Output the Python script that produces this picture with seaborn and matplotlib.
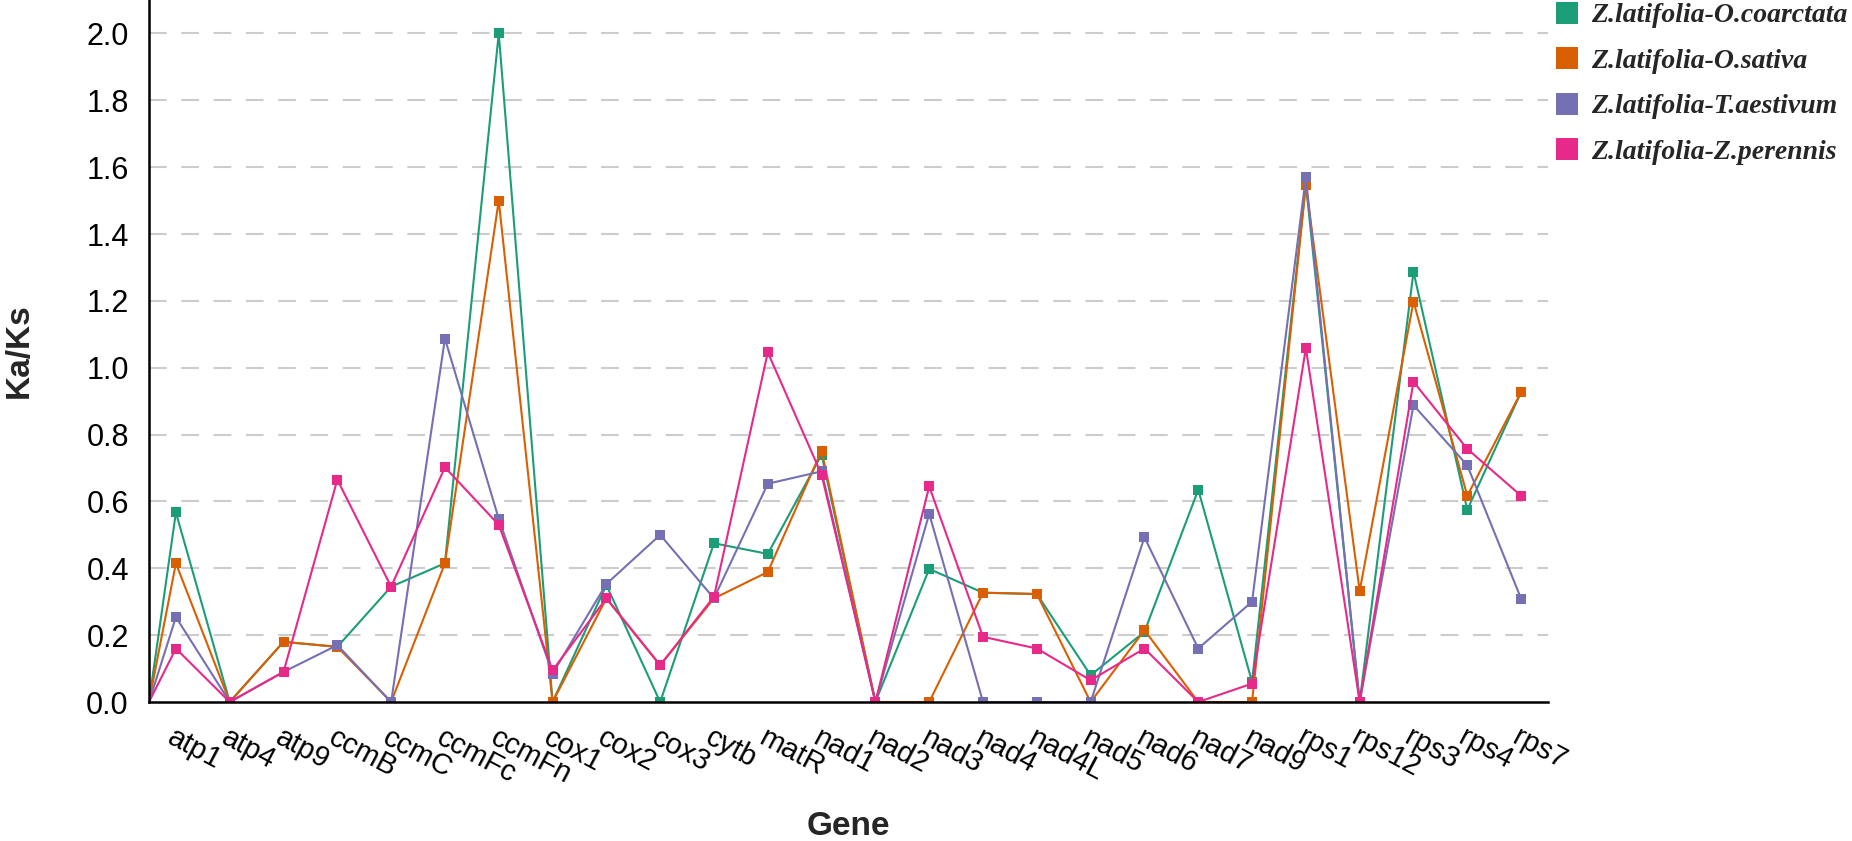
import numpy as np
import pandas as pd
import matplotlib
matplotlib.use("Agg")
import matplotlib.pyplot as plt
import matplotlib.transforms as mtransforms
from matplotlib.lines import Line2D
import seaborn as sns

genes = ["atp1", "atp4", "atp9", "ccmB", "ccmC", "ccmFc", "ccmFn", "cox1", "cox2", "cox3",
         "cytb", "matR", "nad1", "nad2", "nad3", "nad4", "nad4L", "nad5", "nad6", "nad7",
         "nad9", "rps1", "rps12", "rps3", "rps4", "rps7"]

o_coarctata = [0.567, 0.0, 0.18, 0.165, 0.345, 0.415, 2.0, 0.0, 0.35, 0.0,
               0.475, 0.443, 0.74, 0.0, 0.398, 0.327, 0.323, 0.08, 0.21, 0.635,
               0.06, 1.55, 0.0, 1.287, 0.575, 0.927]
o_sativa = [0.415, 0.0, 0.18, 0.165, 0.0, 0.415, 1.5, 0.0, 0.31, 0.11,
            0.31, 0.389, 0.752, 0.0, 0.0, 0.327, 0.323, 0.0, 0.215, 0.0,
            0.0, 1.547, 0.332, 1.198, 0.617, 0.927]
t_aestivum = [0.254, 0.0, 0.09, 0.17, 0.0, 1.087, 0.548, 0.085, 0.353, 0.50,
              0.31, 0.653, 0.69, 0.0, 0.563, 0.0, 0.0, 0.0, 0.493, 0.16,
              0.30, 1.571, 0.0, 0.888, 0.708, 0.309]
z_perennis = [0.16, 0.0, 0.09, 0.665, 0.345, 0.702, 0.53, 0.095, 0.31, 0.11,
              0.315, 1.046, 0.68, 0.0, 0.645, 0.195, 0.16, 0.065, 0.16, 0.0,
              0.055, 1.059, 0.0, 0.958, 0.757, 0.617]

pairs = ["Z.latifolia-O.coarctata", "Z.latifolia-O.sativa",
         "Z.latifolia-T.aestivum", "Z.latifolia-Z.perennis"]
colors = ["#1b9e77", "#d95f02", "#7570b3", "#e7298a"]

series = [o_coarctata, o_sativa, t_aestivum, z_perennis]
rows = []
for pair, vals in zip(pairs, series):
    for i, v in enumerate(vals):
        rows.append({"pos": i, "Gene": genes[i], "Ka/Ks": v, "Pair": pair})
df = pd.DataFrame(rows)

sns.set_style("white")
plt.rcParams["font.family"] = ["Liberation Sans", "DejaVu Sans"]

fig = plt.figure(figsize=(18.52, 8.41), dpi=100)
ax = fig.add_axes([149 / 1852, 139 / 841, 1399 / 1852, 702 / 841])

# grid first so it sits under the lines
for yv in np.arange(0.2, 2.01, 0.2):
    ax.axhline(yv, color="#cccccc", lw=1.5, ls=(0, (8.5, 7)), zorder=0)

# lines start from the origin of the axis in the original chart
for vals, c in zip(series, colors):
    ax.plot([-0.5, 0], [0, vals[0]], color=c, lw=1.5, zorder=1)

sns.lineplot(data=df, x="pos", y="Ka/Ks", hue="Pair", palette=colors,
             marker="s", markersize=7.5, markeredgewidth=0, lw=1.5,
             sort=False, legend=False, ax=ax, zorder=2)

ax.set_xlim(-0.5, len(genes) - 0.5)
ax.set_ylim(0, 2.1)
ax.set_yticks(np.arange(0, 2.01, 0.2))
ax.set_yticklabels([f"{v:.1f}" for v in np.arange(0, 2.01, 0.2)])
ax.set_xticks(range(len(genes)))
ax.set_xticklabels(genes, rotation=-28, ha="left", va="top", rotation_mode="anchor")

shift = mtransforms.ScaledTranslation(-0.27, 0, fig.dpi_scale_trans)
for lab in ax.get_xticklabels():
    lab.set_transform(lab.get_transform() + shift)

ax.tick_params(axis="both", which="major", length=9.5, width=1.5,
               color="black", labelcolor="black", direction="out")
ax.tick_params(axis="x", pad=6, labelsize=21)
ax.tick_params(axis="y", pad=5, labelsize=22)

sns.despine(ax=ax)
for side in ["left", "bottom"]:
    ax.spines[side].set_color("black")
    ax.spines[side].set_linewidth(1.8)
    ax.spines[side].set_zorder(3)

ax.set_xlabel("Gene", fontsize=24, fontweight="bold", va="center")
ax.set_ylabel("Ka/Ks", fontsize=24, fontweight="bold", va="center", ha="center")
ax.xaxis.set_label_coords(0.5, -0.178)
ax.yaxis.set_label_coords(-0.093, 0.5)

handles = [Line2D([], [], marker="s", ls="none", color=c, markersize=16,
                  markeredgewidth=0) for c in colors]
ax.legend(handles, pairs, loc="upper left", bbox_to_anchor=(1553 / 1852, 1 - 3 / 841),
          bbox_transform=fig.transFigure, frameon=False, borderpad=0,
          borderaxespad=0, handlelength=1.0, handletextpad=0.38,
          labelspacing=0.72,
          prop={"family": "Liberation Serif", "weight": "bold",
                "style": "italic", "size": 20})

fig.savefig("out.png", dpi=100)
